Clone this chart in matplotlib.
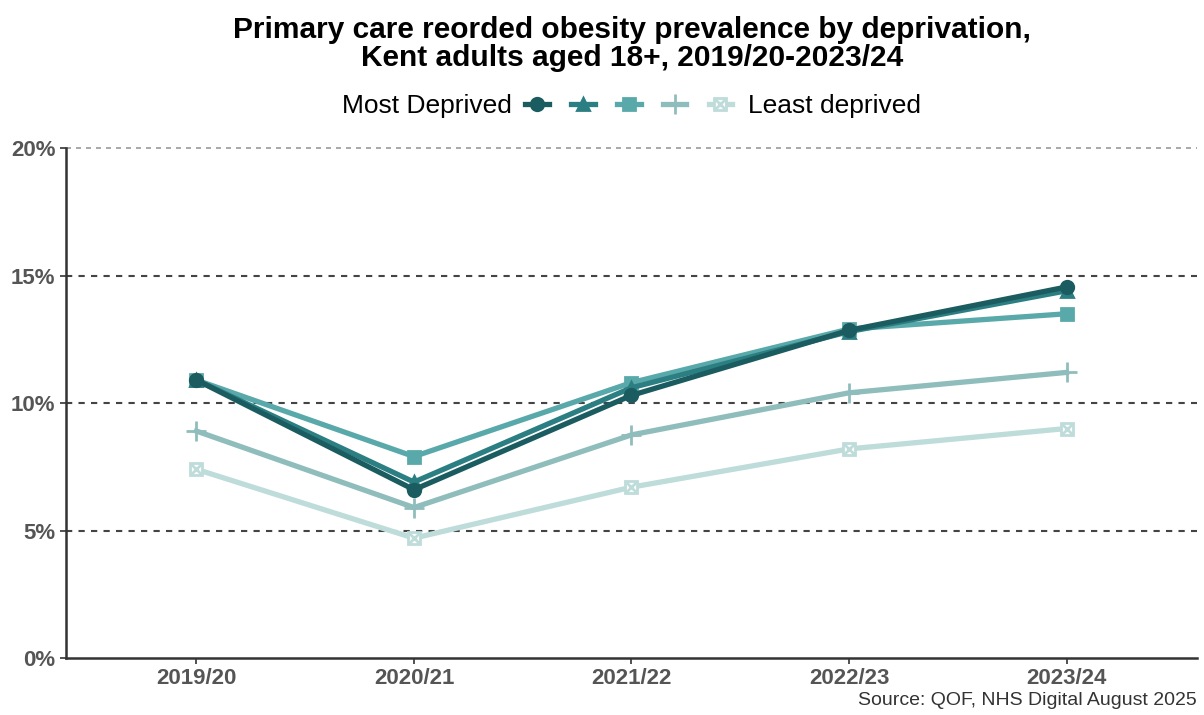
import matplotlib.pyplot as plt
from matplotlib.lines import Line2D
from matplotlib.legend_handler import HandlerTuple

plt.rcParams['font.family'] = ['Liberation Sans', 'DejaVu Sans']

years = ['2019/20', '2020/21', '2021/22', '2022/23', '2023/24']
most_deprived = [10.9, 6.6, 10.3, 12.85, 14.55]
quintile_2 = [10.9, 6.9, 10.6, 12.8, 14.4]
quintile_3 = [10.9, 7.9, 10.8, 12.9, 13.5]
quintile_4 = [8.9, 5.9, 8.75, 10.4, 11.2]
least_deprived = [7.4, 4.7, 6.7, 8.2, 9.0]

colours = ['#1b5c60', '#2b7f82', '#5aa9aa', '#8fbdbc', '#bddcda']

fig = plt.figure(figsize=(12.04, 7.15), dpi=100)
ax = fig.add_axes([0.0548, 0.0797, 0.9394, 0.7133])

x = range(len(years))
lw = 3.8
series = [most_deprived, quintile_2, quintile_3, quintile_4]
markers = ['o', '^', 's', '+']
sizes = {'o': 9, '^': 9, 's': 9, '+': 14}

# lightest line first so the most deprived sits on top
ax.plot(x, least_deprived, color=colours[4], lw=lw, marker='s', ms=9,
        mfc='white', mec=colours[4], mew=2, zorder=2)
ax.plot(x, least_deprived, ls='none', marker='x', ms=7, color=colours[4],
        mew=2, zorder=2.1)
for vals, c, m in zip(series[::-1], colours[3::-1], markers[::-1]):
    ax.plot(x, vals, color=c, lw=lw, marker=m, ms=sizes[m], mew=2, zorder=3)

handles = []
for c, m in zip(colours[:4], markers):
    handles.append(Line2D([], [], color=c, lw=lw, marker=m, ms=sizes[m], mew=2))
handles.append((Line2D([], [], color=colours[4], lw=lw, marker='s', ms=9,
                       mfc='white', mec=colours[4], mew=2),
                Line2D([], [], ls='none', marker='x', ms=7, color=colours[4],
                       mew=2)))
labels = ['', '', '', '', 'Least deprived']

ax.set_xlim(-0.6, 4.6)
ax.set_ylim(0, 20)
ax.set_xticks(list(x))
ax.set_xticklabels(years)
ax.set_yticks([0, 5, 10, 15, 20])
ax.set_yticklabels([f'{v}%' for v in [0, 5, 10, 15, 20]])
for v in [5, 10, 15]:
    ax.axhline(v, color='#444444', lw=1.5, ls=(0, (3, 3)), zorder=1)
ax.axhline(20, color='#9a9a9a', lw=1.2, ls=(0, (3, 3)), zorder=1, clip_on=False)

for s in ['top', 'right']:
    ax.spines[s].set_visible(False)
for s in ['left', 'bottom']:
    ax.spines[s].set_color('#333333')
    ax.spines[s].set_linewidth(1.8)
ax.tick_params(axis='both', colors='#333333', length=4, width=1.2,
               labelsize=16, labelcolor='#555555')
for lab in ax.get_xticklabels() + ax.get_yticklabels():
    lab.set_fontweight('bold')

fig.suptitle('Primary care reorded obesity prevalence by deprivation,\n'
             'Kent adults aged 18+, 2019/20-2023/24', x=0.525,
             fontsize=21.5, fontweight='bold', y=0.977, linespacing=1.0)

# legend: title text on the left, keys and end label to its right
fig.text(0.4255, 0.852, 'Most Deprived', ha='right', va='center', fontsize=19)
fig.legend(handles, labels, loc='center left', bbox_to_anchor=(0.436, 0.852),
           ncol=5, frameon=False, fontsize=19, handlelength=0.9,
           handletextpad=0.6, columnspacing=0.24, borderpad=0,
           borderaxespad=0, handler_map={tuple: HandlerTuple(ndivide=1)})

fig.text(0.994, 0.008, 'Source: QOF, NHS Digital August 2025', ha='right',
         va='bottom', fontsize=14, color='#333333')

fig.savefig('out.png', dpi=100, facecolor='white')
